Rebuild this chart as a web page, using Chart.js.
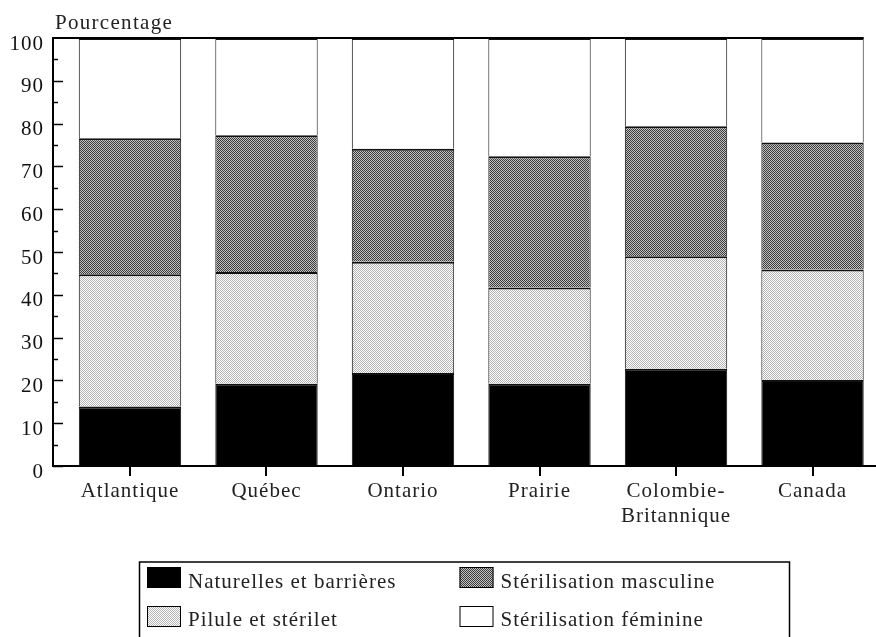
<!DOCTYPE html>
<html lang="fr">
<head>
<meta charset="utf-8">
<title>Pourcentage par région</title>
<script src="https://cdn.jsdelivr.net/npm/chart.js@4"></script>
<style>
  html, body { margin: 0; padding: 0; background: #fff; overflow: hidden; }
  canvas { display: block; }
</style>
</head>
<body>
<canvas id="chart" width="876" height="637"></canvas>
<script>
// data (percentages, stacked bottom to top)
const categories = ['Atlantique', 'Québec', 'Ontario', 'Prairie', ['Colombie-', 'Britannique'], 'Canada'];
const naturelles = [13.9, 19.2, 21.7, 19.2, 22.7, 20.1];
const pilule     = [30.9, 26.1, 26.0, 22.5, 26.3, 25.8];
const masculine  = [31.8, 32.0, 26.4, 30.7, 30.4, 29.7];
const feminine   = [23.4, 22.7, 25.9, 27.6, 20.6, 24.4];
const seriesLabels = ['Naturelles et barrières', 'Pilule et stérilet', 'Stérilisation masculine', 'Stérilisation féminine'];
const yTicks = [0, 10, 20, 30, 40, 50, 60, 70, 80, 90, 100];
const yTitle = 'Pourcentage';

const FONT = 'Liberation Serif, Times New Roman, serif';
const canvas = document.getElementById('chart');
const ctx0 = canvas.getContext('2d');

// small dot patterns like the print screens
function makePattern(dark, light) {
  const c = document.createElement('canvas');
  c.width = 2; c.height = 2;
  const g = c.getContext('2d');
  g.fillStyle = light; g.fillRect(0, 0, 2, 2);
  g.fillStyle = dark; g.fillRect(0, 0, 1, 1); g.fillRect(1, 1, 1, 1);
  return ctx0.createPattern(c, 'repeat');
}
const lightDots = makePattern('#b4b4b4', '#ffffff');
const darkDots = makePattern('#3c3c3c', '#c0c0c0');

const fills = ['#000000', lightDots, darkDots, '#ffffff'];
const values = [naturelles, pilule, masculine, feminine];

const datasets = values.map((vals, k) => ({
  label: seriesLabels[k],
  data: vals.map((v, i) => ({ x: i, y: v })),
  backgroundColor: fills[k],
  borderColor: '#111',
  borderWidth: { top: 2, bottom: 0, left: 1, right: 1 },
  borderSkipped: false,
  categoryPercentage: 1,
  barPercentage: 0.75,
}));

const decorations = {
  id: 'decorations',
  beforeDraw(chart) { chart.ctx.letterSpacing = '1px'; },
  beforeDatasetsDraw(chart) { chart.ctx.letterSpacing = '0px'; },
  afterDraw(chart) {
    const ctx = chart.ctx;
    const area = chart.chartArea;
    const ys = chart.scales.y;
    const xs = chart.scales.x;

    ctx.save();
    ctx.strokeStyle = '#000';

    // top frame line, up to the last bar
    const meta = chart.getDatasetMeta(3);
    const last = meta.data[meta.data.length - 1];
    ctx.lineWidth = 2;
    ctx.beginPath();
    ctx.moveTo(area.left, ys.getPixelForValue(ys.max));
    ctx.lineTo(last.x + last.width / 2, ys.getPixelForValue(ys.max));
    ctx.stroke();

    // inward ticks on the y axis, minor every 5
    ctx.lineWidth = 1.5;
    for (let v = ys.min; v < ys.max; v += 5) {
      const y = Math.round(ys.getPixelForValue(v)) + 0.5;
      const len = v % 10 === 0 ? 10 : 5;
      ctx.beginPath();
      ctx.moveTo(area.left, y);
      ctx.lineTo(area.left + len, y);
      ctx.stroke();
    }

    // tick marks under each category
    ctx.lineWidth = 2;
    categories.forEach((c, i) => {
      const x = Math.round(xs.getPixelForValue(i));
      ctx.beginPath();
      ctx.moveTo(x, area.bottom);
      ctx.lineTo(x, area.bottom + 10);
      ctx.stroke();
    });

    // axis title
    ctx.letterSpacing = '1.3px';
    ctx.fillStyle = '#222';
    ctx.font = '21px ' + FONT;
    ctx.textAlign = 'left';
    ctx.textBaseline = 'alphabetic';
    ctx.fillText(yTitle, 55, 29);

    // legend box, two columns
    ctx.lineWidth = 1.5;
    ctx.strokeRect(139.5, 562, 650, 100);
    ctx.letterSpacing = '1px';
    chart.data.datasets.forEach((ds, i) => {
      const col = Math.floor(i / 2), row = i % 2;
      const sx = col === 0 ? 147 : 459.5;
      const sy = row === 0 ? 567 : 606;
      ctx.fillStyle = ds.backgroundColor;
      ctx.fillRect(sx, sy, 34, 21);
      ctx.lineWidth = 1;
      ctx.strokeRect(sx + 0.5, sy + 0.5, 33, 20);
      ctx.fillStyle = '#222';
      ctx.fillText(ds.label, sx + 41, row === 0 ? 588 : 626);
    });
    ctx.restore();
  }
};

new Chart(canvas, {
  type: 'bar',
  data: { datasets },
  options: {
    responsive: false,
    animation: false,
    layout: { padding: { top: 38, right: 0, bottom: 71, left: 0 } },
    plugins: {
      legend: { display: false },
      tooltip: { enabled: false },
    },
    scales: {
      x: {
        type: 'linear',
        stacked: true,
        min: -0.564,
        max: 5.465,
        offset: false,
        grid: { display: false, drawTicks: true, tickLength: 9 },
        border: { display: true, color: '#000', width: 2 },
        ticks: {
          stepSize: 1,
          includeBounds: false,
          autoSkip: false,
          maxRotation: 0,
          padding: 4,
          color: '#222',
          font: { family: FONT, size: 21 },
          callback: v => categories[v],
        },
        afterFit: s => { s.height = 100; },
      },
      y: {
        stacked: true,
        min: yTicks[0],
        max: yTicks[yTicks.length - 1],
        z: 1,
        grid: { display: false, drawTicks: false },
        border: { display: true, color: '#000', width: 2 },
        ticks: {
          stepSize: yTicks[1] - yTicks[0],
          padding: 9,
          labelOffset: 6,
          color: '#111',
          font: { family: FONT, size: 21 },
        },
        afterFit: s => { s.width = 53; },
      },
    },
  },
  plugins: [decorations],
});
</script>
</body>
</html>
